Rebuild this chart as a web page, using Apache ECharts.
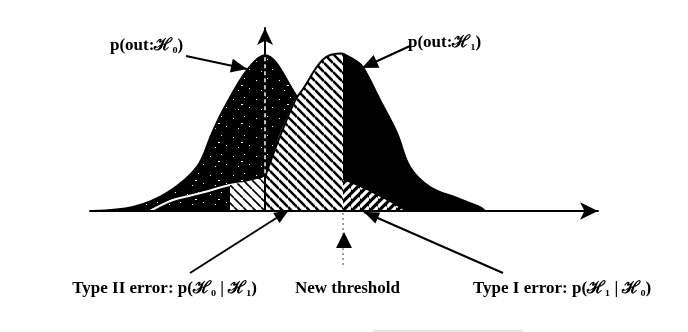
<!DOCTYPE html>
<html>
<head>
<meta charset="utf-8">
<script src="https://cdn.jsdelivr.net/npm/echarts@6.0.0/dist/echarts.min.js"></script>
<style>
  html, body { margin: 0; padding: 0; background: #fff; }
  #main { width: 688px; height: 332px; }
</style>
</head>
<body>
<div id="main"></div>
<script>
// x: value of "out" (H0 mean at 0), y: density
var xH0 = [-3.44, -2.64, -1.96, -1.36, -1.06, -0.84, -0.36, 0, 0.56, 0.9, 1.2, 1.56, 1.96, 2.3, 2.64, 2.8];
var yH0 = [0, 0.010, 0.046, 0.112, 0.198, 0.256, 0.358, 0.396, 0.307, 0.22, 0.14, 0.079, 0.058, 0.036, 0.013, 0];
var xH1 = [-2.3, -1.84, -1.3, -0.7, 0, 0.3, 0.6, 0.76, 1.16, 1.5, 1.56, 1.8, 1.96, 2.3, 2.64, 2.9, 3.3, 3.84, 4.3, 4.4];
var yH1 = [0, 0.028, 0.045, 0.066, 0.086, 0.19, 0.28, 0.31, 0.385, 0.400, 0.400, 0.383, 0.365, 0.282, 0.198, 0.112, 0.061, 0.033, 0.010, 0];
var threshold = 1.56;   // new threshold
var hatchStart = -0.7;  // light hatching under H1 starts here
var crossing = 0.6;     // where H1 rises above H0

var labelH0 = 'p(out:ℋ₀)';
var labelH1 = 'p(out:ℋ₁)';
var labelType2 = 'Type II error: p(ℋ₀ | ℋ₁)';
var labelNew = 'New threshold';
var labelType1 = 'Type I error: p(ℋ₁ | ℋ₀)';

function pts(xs, ys, lo, hi) {
  var out = [];
  for (var i = 0; i < xs.length; i++) {
    if (xs[i] >= lo && xs[i] <= hi) out.push([xs[i], ys[i]]);
  }
  return out;
}

// fill textures
function hatch(s, lw, fg, bg, slash) {
  var c = document.createElement('canvas');
  c.width = s; c.height = s;
  var g = c.getContext('2d');
  g.fillStyle = bg; g.fillRect(0, 0, s, s);
  g.strokeStyle = fg; g.lineWidth = lw;
  g.beginPath();
  for (var k = -1; k <= 1; k++) {
    if (slash) { g.moveTo(0, s + k * s); g.lineTo(s, k * s); }
    else { g.moveTo(0, k * s); g.lineTo(s, s + k * s); }
  }
  g.stroke();
  return { image: c, repeat: 'repeat' };
}
function speckle() {
  var c = document.createElement('canvas');
  c.width = 23; c.height = 19;
  var g = c.getContext('2d');
  g.fillStyle = '#000'; g.fillRect(0, 0, 23, 19);
  g.fillStyle = '#fff';
  var dots = [[3, 4], [14, 2], [19, 12], [8, 14]];
  dots.forEach(function (d) { g.fillRect(d[0], d[1], 1, 1); });
  g.fillRect(11, 9, 2, 1);
  return { image: c, repeat: 'repeat' };
}

var chart = echarts.init(document.getElementById('main'));

var yAt0 = yH1[xH1.indexOf(0)];
var peakH0 = yH0[xH0.indexOf(0)];

var option = {
  animation: false,
  backgroundColor: '#fff',
  grid: { left: 90, right: 90, top: 28, bottom: 121 },
  xAxis: {
    type: 'value', min: -3.5, max: 6.66,
    z: 10,
    axisLine: { onZero: true, lineStyle: { color: '#000', width: 2 }, symbol: ['none', 'arrow'], symbolSize: [13, 18] },
    axisTick: { show: false }, axisLabel: { show: false }, splitLine: { show: false }
  },
  yAxis: {
    type: 'value', min: 0, max: 0.465,
    z: 10,
    axisLine: { onZero: true, lineStyle: { color: '#000', width: 2 }, symbol: ['none', 'arrow'], symbolSize: [12, 17] },
    axisTick: { show: false }, axisLabel: { show: false }, splitLine: { show: false }
  },
  series: [
    { // H0 whole
      type: 'line', z: 2, smooth: 0.35, symbol: 'none',
      data: pts(xH0, yH0, -99, 99),
      lineStyle: { color: '#000', width: 2 },
      areaStyle: { color: speckle(), opacity: 1 }
    },
    { // H1 left tail seen as white line in the dark area
      type: 'line', z: 3, smooth: 0.35, symbol: 'none',
      data: pts(xH1, yH1, -99, crossing),
      lineStyle: { color: '#fff', width: 2 }
    },
    { // light hatching under H1
      type: 'line', z: 4, smooth: 0.35, symbol: 'none',
      data: pts(xH1, yH1, hatchStart, 0),
      lineStyle: { width: 0 },
      areaStyle: { color: hatch(9, 1.6, '#000', '#fff', false), opacity: 1 }
    },
    { // dense hatching under H1, left of threshold
      type: 'line', z: 4, smooth: 0.35, symbol: 'none',
      data: pts(xH1, yH1, 0, threshold),
      lineStyle: { color: '#000', width: 2 },
      areaStyle: { color: hatch(9, 2.6, '#000', '#fff', false), opacity: 1 }
    },
    { // H1 right of threshold, solid
      type: 'line', z: 4, smooth: 0.35, symbol: 'none',
      data: pts(xH1, yH1, threshold, 99),
      lineStyle: { color: '#000', width: 2 },
      areaStyle: { color: '#000', opacity: 1 }
    },
    { // H0 right of threshold (type I error)
      type: 'line', z: 5, smooth: 0.35, symbol: 'none',
      data: pts(xH0, yH0, threshold, 99),
      lineStyle: { width: 0 },
      areaStyle: { color: hatch(9, 3.2, '#fff', '#000', true), opacity: 1 }
    },
    { // dashed axis showing through the H0 area
      type: 'line', z: 12, symbol: 'none',
      data: [[0, yAt0 + 0.01], [0, peakH0]],
      lineStyle: { color: '#fff', width: 1.5, type: [4, 3] }
    }
  ]
};
chart.setOption(option);

function arrowHead(x1, y1, x2, y2, len, half) {
  var dx = x2 - x1, dy = y2 - y1, d = Math.sqrt(dx * dx + dy * dy);
  var ux = dx / d, uy = dy / d;
  var bx = x2 - ux * len, by = y2 - uy * len;
  return {
    type: 'polygon', z: 50,
    shape: { points: [[x2, y2], [bx - uy * half, by + ux * half], [bx + uy * half, by - ux * half]] },
    style: { fill: '#000' }
  };
}
function arrow(x1, y1, x2, y2, len, half) {
  return [
    { type: 'line', z: 50, shape: { x1: x1, y1: y1, x2: x2, y2: y2 }, style: { stroke: '#000', lineWidth: 2 } },
    arrowHead(x1, y1, x2, y2, len, half)
  ];
}
var font = 'bold 17px "Liberation Serif", "DejaVu Serif", serif';
function label(txt, x, y, align) {
  return { type: 'text', z: 50, x: x, y: y, style: { text: txt, font: font, fill: '#000', align: align || 'left', verticalAlign: 'middle' } };
}

var thrPx = chart.convertToPixel({ gridIndex: 0 }, [threshold, 0]);
var g = [];
g.push(label(labelH0, 110, 46));
g = g.concat(arrow(186, 56, 247, 69, 16, 7));
g.push(label(labelH1, 408, 43));
g = g.concat(arrow(410, 46, 362, 68, 16, 7));
g.push(label(labelType2, 257, 289, 'right'));
g = g.concat(arrow(190, 273, 289, 210, 15, 6));
g.push(label(labelNew, 295, 289));
g.push({ type: 'line', z: 50, shape: { x1: thrPx[0], y1: thrPx[1] + 2, x2: thrPx[0], y2: 268 }, style: { stroke: '#444', lineWidth: 1, lineDash: [2, 3] } });
g.push({ type: 'polygon', z: 50, shape: { points: [[thrPx[0] + 1, 232], [thrPx[0] - 7, 248], [thrPx[0] + 9, 248]] }, style: { fill: '#000' } });
g.push(label(labelType1, 473, 289));
g = g.concat(arrow(503, 273, 364, 212, 15, 6));
g.push({ type: 'line', z: 50, shape: { x1: 373, y1: 331, x2: 523, y2: 331 }, style: { stroke: '#ccc', lineWidth: 1 } });

chart.setOption({ graphic: g });
</script>
</body>
</html>
